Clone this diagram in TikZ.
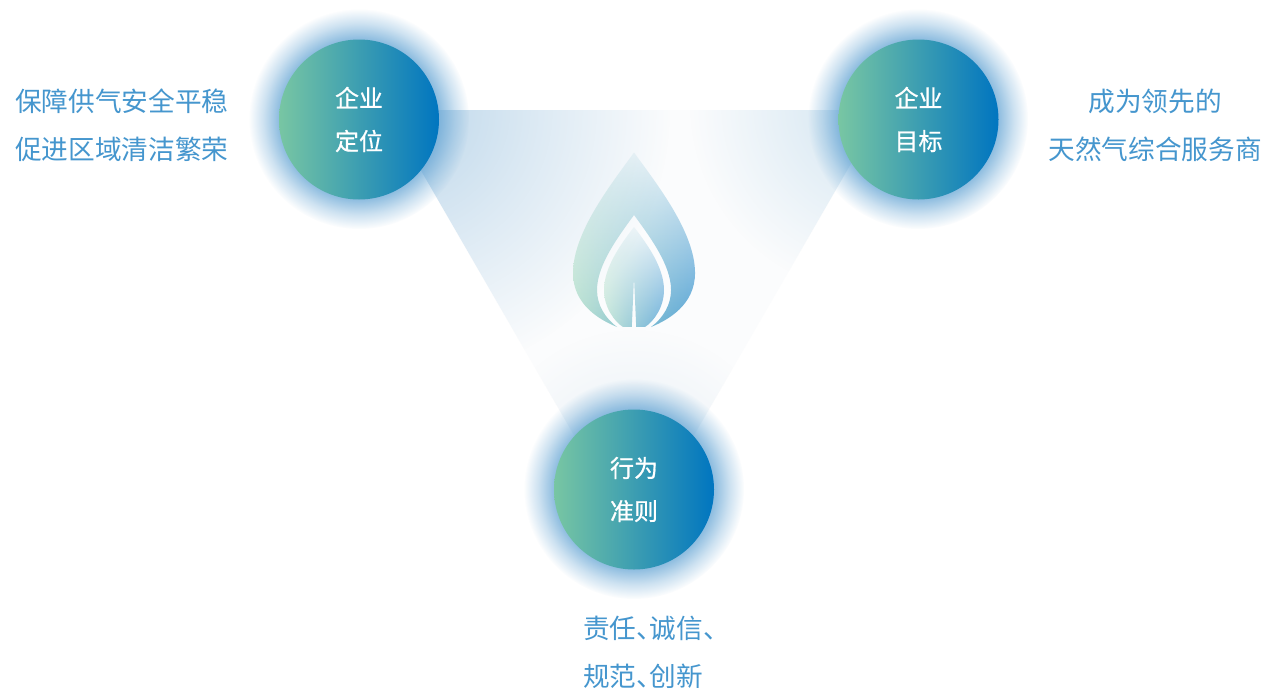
\documentclass[tikz,border=0pt]{standalone}
\usepackage{fontspec}
\setmainfont{Noto Sans CJK SC}
\newfontfamily\puncfont[RawFeature={+halt}]{Noto Sans CJK SC}
\newfontfamily\discfont[FakeBold=0.8]{Noto Sans CJK SC}
\usetikzlibrary{fadings}
\definecolor{txtblue}{HTML}{4596CE}
\definecolor{circL}{HTML}{78C6A3}
\definecolor{circM}{HTML}{4A9BBC}
\definecolor{circR}{HTML}{0075C0}
\definecolor{glowc}{HTML}{6AA8D6}
\definecolor{triA}{HTML}{BBD6EA}
\definecolor{triB}{HTML}{CFE3F0}
\definecolor{triC}{HTML}{E4EDF4}
\definecolor{triBase}{HTML}{FBFCFD}
\pgfdeclareradialshading{glowsh}{\pgfpointorigin}{color(0bp)=(pgftransparent!25); color(18.2bp)=(pgftransparent!25); color(21.6bp)=(pgftransparent!66); color(25bp)=(pgftransparent!100); color(50bp)=(pgftransparent!100)}
\pgfdeclarefading{glowf}{\pgfuseshading{glowsh}}
\pgfdeclareradialshading{blobsh}{\pgfpointorigin}{color(0bp)=(pgftransparent!0); color(12bp)=(pgftransparent!50); color(25bp)=(pgftransparent!100); color(50bp)=(pgftransparent!100)}
\pgfdeclarefading{blobf}{\pgfuseshading{blobsh}}
\tikzfading[name=dropfade, top color=transparent!88, bottom color=transparent!5]
\tikzset{
  disc/.style={circle,minimum size=120pt,inner sep=0pt,left color=circL,middle color=circM,right color=circR,
     text=white,font=\discfont\fontsize{18pt}{32.25pt}\selectfont,align=center},
  glow/.style={fill=glowc,path fading=glowf},
  blob/.style={path fading=blobf},
  caption/.style={text=txtblue,font=\fontsize{20pt}{36pt}\selectfont,inner sep=0pt},
}
\newcommand{\dun}{{\puncfont 、}}
\begin{document}
\begin{tikzpicture}[x=0.75pt,y=-0.75pt]
\useasboundingbox (0,0) rectangle (1264,690);
\fill[white] (0,0) rectangle (1264,690);
% triangle
\begin{scope}
  \clip (386,110) -- (882,110) -- (634,539) -- cycle;
  \fill[triBase] (386,110) rectangle (882,539);
  \fill[triA,blob] (400,110) circle (270);
  \fill[triB,blob] (880,105) circle (190);
  \fill[triC,blob] (634,480) circle (150);
\end{scope}
% flame
\shade[left color=circL!55!white,right color=circR!70!white,path fading=dropfade]
  (617,327) .. controls (600,320) and (573,305) .. (573,273)
  .. controls (573,232) and (612,183) .. (634,152.5)
  .. controls (656,183) and (695,232) .. (695,273)
  .. controls (695,305) and (668,320) .. (651,327)
  .. controls (663,318) and (671,305) .. (671,290)
  .. controls (671,265) and (650,237) .. (634,215)
  .. controls (618,237) and (597,265) .. (597,290)
  .. controls (597,305) and (605,318) .. (617,327) -- cycle;
\shade[left color=circL!45!white,right color=circR!60!white,path fading=dropfade]
  (623,327) .. controls (615,322) and (604,308) .. (604,290)
  .. controls (604,268) and (620,245) .. (634,227)
  .. controls (648,245) and (664,268) .. (664,290)
  .. controls (664,308) and (653,322) .. (645,327)
  -- (636.2,327) -- (634,277) -- (631.8,327) -- cycle;
% glows
\fill[glow] (359,119) circle (110);
\fill[glow] (918,119) circle (110);
\fill[glow] (634,489) circle (110);
% discs
\node[disc] (pos) at (359,119.5) {企业\\定位};
\node[disc] (goal) at (918.5,119.5) {企业\\目标};
\node[disc] (rule) at (634,489.5) {行为\\准则};
% captions
\node[caption,anchor=west] (capa1) at (15,101) {保障供气安全平稳};
\node[caption,anchor=west] (capa2) at (15,149) {促进区域清洁繁荣};
\node[caption,anchor=center] (capb1) at (1155,101) {成为领先的};
\node[caption,anchor=center] (capb2) at (1155,149) {天然气综合服务商};
\node[caption,anchor=west] (capc1) at (583,628) {责任\dun 诚信\dun};
\node[caption,anchor=west] (capc2) at (583,676) {规范\dun 创新};
\end{tikzpicture}
\end{document}
